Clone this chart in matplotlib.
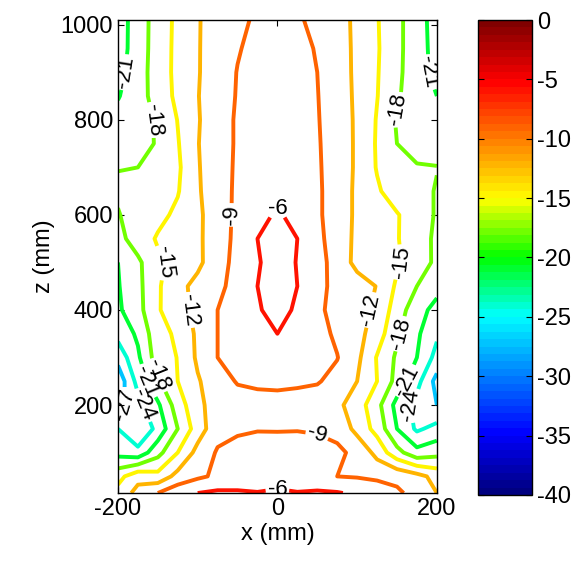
import numpy as np
import matplotlib
matplotlib.use("Agg")
import matplotlib.pyplot as plt
from matplotlib.colors import Normalize, LinearSegmentedColormap
from matplotlib.cm import ScalarMappable

plt.rcParams['font.family'] = ['Liberation Sans', 'DejaVu Sans']
plt.rcParams['axes.unicode_minus'] = False

# grid (dB)
x_mm = [-200, -175, -150, -125, -100, -75, -50, -25, 0, 25, 50, 75, 100, 125, 150, 175, 200]
z_mm = [15, 50, 100, 150, 200, 250, 300, 350, 400, 450, 500, 550, 600, 650, 700, 750, 800, 850, 900, 950, 1010]
level_db = [
    [-14, -11, -9, -7, -6, -5.5, -5.5, -5.8, -5.2, -5.8, -5.5, -5.8, -6.5, -7.5, -8.5, -10, -12],
    [-16, -13, -14, -11, -9.5, -8.5, -8.5, -8.8, -8.5, -8.6, -8.8, -9, -9.2, -9.5, -9.8, -11, -13],
    [-22, -23, -19, -15, -11, -8.7, -8.3, -8.2, -8.3, -8.1, -8.3, -8.6, -9.5, -13, -17, -20, -19],
    [-24, -27, -23, -18, -13.5, -10, -9.3, -9.1, -9.1, -9.1, -9.2, -9.6, -13, -16, -21, -24.5, -23],
    [-28, -25, -21.5, -16.5, -12.8, -10.5, -10.2, -10, -9.8, -10, -10.3, -11.3, -13.5, -17, -22, -25, -27],
    [-29, -23, -18.5, -15, -12.3, -10.2, -8.8, -8.5, -8.5, -8.6, -8.8, -9.8, -12, -15, -19, -23, -28],
    [-26, -21.5, -16.5, -14.9, -11.5, -9, -7.8, -7, -6.8, -7, -7.8, -8.9, -11.3, -15.2, -18.5, -21, -25],
    [-23, -20.5, -16, -14.5, -11.4, -9, -7.6, -6.5, -6, -6.5, -8, -9.5, -11, -13.5, -17.5, -20.5, -23.5],
    [-21.5, -19, -15.3, -13.2, -11.2, -9, -7.5, -6.2, -5.3, -6.3, -8.4, -10, -10.8, -12.6, -16.5, -19.8, -22],
    [-21.2, -18.8, -15.4, -12.8, -11.2, -9.8, -7.8, -6, -5, -6, -8, -10, -10.8, -12.1, -15.5, -18, -20],
    [-21, -18.6, -15.5, -14, -12.6, -10.3, -8, -6.2, -5, -6.1, -7.8, -10.3, -12.8, -13.8, -14.6, -16.5, -18.6],
    [-19, -16.5, -14.7, -13.9, -12.5, -10.5, -8.2, -6, -5.3, -6, -8.2, -10.5, -12.6, -14, -14.8, -16.8, -18.5],
    [-18.2, -16.5, -15.8, -14.4, -12.5, -10.6, -8.3, -6.5, -5.8, -6.5, -8.5, -10.5, -12.5, -13.5, -14.8, -16.5, -18.3],
    [-17.5, -16.8, -16.2, -15.2, -12.3, -10.5, -8.4, -7, -6.5, -7, -8.5, -10.5, -12.5, -14.6, -16.5, -17, -18.2],
    [-18.1, -18, -17.5, -15.5, -12.2, -10.5, -8.5, -7.3, -7, -7.3, -8.6, -10.5, -12.4, -15.2, -17.8, -17.8, -17.9],
    [-19.5, -18.8, -17.8, -15.2, -12.1, -10.5, -8.6, -7.5, -7.2, -7.5, -8.7, -10.5, -12.4, -15.3, -18, -19, -19.5],
    [-20, -19, -17.7, -14.9, -12.2, -10.5, -8.6, -7.8, -7.5, -7.8, -8.8, -10.6, -12.4, -15.2, -18.3, -19.5, -20],
    [-21.2, -19.2, -16.8, -14.3, -12.1, -10.5, -8.8, -7.9, -7.6, -7.9, -8.9, -10.6, -12.5, -14.9, -17.6, -19.7, -21],
    [-22, -19.3, -16.6, -14.2, -12.2, -10.5, -8.9, -8, -7.8, -8, -9, -10.6, -12.6, -14.8, -17.3, -19.8, -21.8],
    [-22.5, -19.4, -16.7, -14.2, -12.2, -10.6, -9.2, -8.2, -8, -8.2, -9.2, -10.7, -12.6, -14.7, -17.2, -19.8, -22],
    [-22.5, -19.5, -16.7, -14.3, -12.2, -10.8, -9.6, -8.6, -8.3, -8.6, -9.8, -10.9, -12.6, -14.8, -17.2, -19.8, -22.2],
]
contour_levels = [-30, -27, -24, -21, -18, -15, -12, -9, -6]
cbar_ticks = [0, -5, -10, -15, -20, -25, -30, -35, -40]

# colour scale as seen on the colorbar: navy -> blue -> cyan -> green -> yellow -> orange -> red -> dark red
cmap = LinearSegmentedColormap.from_list('db', [
    (0.0, (0, 0, 0.5)), (0.125, (0, 0, 1)), (0.25, (0, 0.5, 1)), (0.375, (0, 1, 1)),
    (0.5, (0, 1, 0)), (0.625, (1, 1, 0)), (0.75, (1, 0.5, 0)), (0.875, (1, 0, 0)),
    (1.0, (0.5, 0, 0))], N=64)
norm = Normalize(vmin=-40, vmax=0)

fig = plt.figure(figsize=(5.84, 5.65), dpi=100)
ax = fig.add_axes([0.202, 0.1274, 0.546, 0.8372])

X, Z = np.meshgrid(x_mm, z_mm)
cs = ax.contour(X, Z, np.array(level_db), levels=contour_levels, cmap=cmap, norm=norm, linewidths=2.8)
ax.clabel(cs, inline=True, fmt='%d', fontsize=16, colors='k', inline_spacing=2)

ax.set_xlim(-200, 200)
ax.set_ylim(15, 1010)
ax.set_xticks([-200, 0, 200])
ax.set_yticks([200, 400, 600, 800, 1000])
ax.tick_params(direction='in', top=True, right=True, labelsize=17, length=4, width=0.8)
ax.set_xlabel('x (mm)', fontsize=17, labelpad=2)
ax.set_ylabel('z (mm)', fontsize=17, labelpad=4)
for s in ax.spines.values():
    s.set_linewidth(1.0)

cax = fig.add_axes([0.8185, 0.1239, 0.0925, 0.8407])
cb = fig.colorbar(ScalarMappable(norm=norm, cmap=cmap), cax=cax, ticks=cbar_ticks)
cb.ax.tick_params(direction='in', left=True, right=True, labelsize=17, length=4, width=0.8)
cb.outline.set_linewidth(1.0)

fig.savefig('out.png', dpi=100)
